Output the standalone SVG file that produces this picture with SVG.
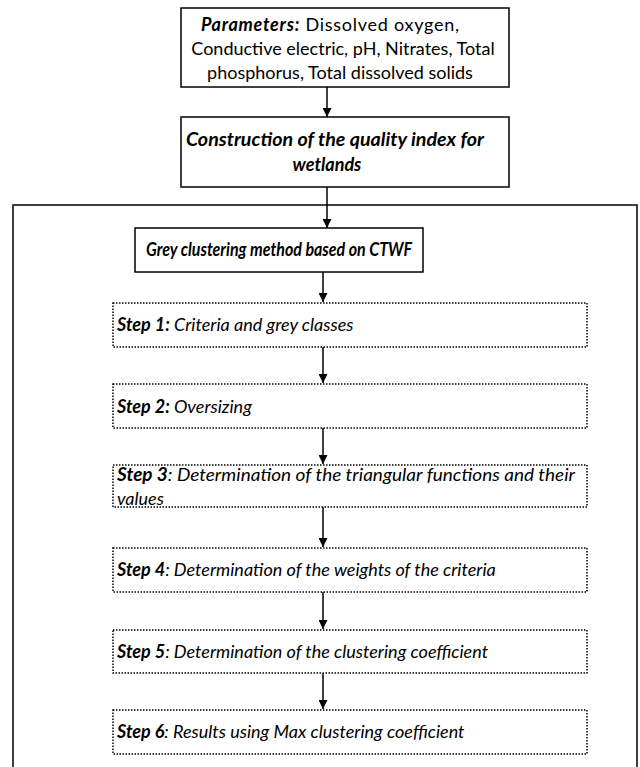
<svg xmlns="http://www.w3.org/2000/svg" width="640" height="767" viewBox="0 0 640 767">
<style>
text{font-family:Lato,"Liberation Sans",sans-serif;font-size:18px;fill:#000}
.c{text-anchor:middle}
.b{font-weight:bold}
.i{font-style:italic}
.solid{fill:#fff;stroke:#000;stroke-width:1.5}
.dot{fill:#fff;stroke:#000;stroke-width:1.5;stroke-dasharray:1.5 1.5}
.ln{stroke:#000;stroke-width:1.5;fill:none}
</style>
<defs>
<marker id="ah" viewBox="0 0 10 10" refX="10" refY="5" markerWidth="9" markerHeight="9" markerUnits="userSpaceOnUse" orient="auto">
<path d="M0,0 L10,5 L0,10 z" fill="#000"/>
</marker>
</defs>
<rect id="outer" x="13" y="205" width="624" height="580" fill="none" stroke="#000" stroke-width="1.5"/>
<g id="connectors">
<line class="ln" x1="327" y1="87" x2="327" y2="117" marker-end="url(#ah)"/>
<line class="ln" x1="327" y1="187" x2="327" y2="228" marker-end="url(#ah)"/>
<line class="ln" x1="323" y1="272" x2="323" y2="302" marker-end="url(#ah)"/>
<line class="ln" x1="323" y1="347" x2="323" y2="383" marker-end="url(#ah)"/>
<line class="ln" x1="323" y1="428" x2="323" y2="464" marker-end="url(#ah)"/>
<line class="ln" x1="323" y1="507" x2="323" y2="547" marker-end="url(#ah)"/>
<line class="ln" x1="323" y1="592" x2="323" y2="629" marker-end="url(#ah)"/>
<line class="ln" x1="323" y1="673" x2="323" y2="709" marker-end="url(#ah)"/>
</g>
<g id="params">
<rect class="solid" x="181" y="8" width="328" height="79"/>
<text class="c" x="330" y="31" textLength="258" lengthAdjust="spacing"><tspan class="b i">Parameters:</tspan> Dissolved oxygen,</text>
<text class="c" x="343" y="55">Conductive electric, pH, Nitrates, Total</text>
<text class="c" x="340" y="79">phosphorus, Total dissolved solids</text>
</g>
<g id="construction">
<rect class="solid" x="181" y="117" width="328" height="70"/>
<text class="c b i" x="335" y="146" textLength="298" lengthAdjust="spacingAndGlyphs">Construction of the quality index for</text>
<text class="c b i" x="327" y="171">wetlands</text>
</g>
<g id="grey">
<rect class="solid" x="135" y="228" width="288" height="44"/>
<text class="c b i" x="279" y="256" textLength="266" lengthAdjust="spacingAndGlyphs">Grey clustering method based on CTWF</text>
</g>
<g id="step1">
<rect class="dot" x="113" y="303" width="474" height="44"/>
<text class="i" x="117" y="331"><tspan class="b">Step 1:</tspan> Criteria and grey classes</text>
</g>
<g id="step2">
<rect class="dot" x="113" y="384" width="474" height="44"/>
<text class="i" x="117" y="413"><tspan class="b">Step 2:</tspan> Oversizing</text>
</g>
<g id="step3">
<rect class="dot" x="113" y="465" width="474" height="42"/>
<text class="i" x="117" y="481" textLength="458" lengthAdjust="spacingAndGlyphs"><tspan class="b">Step 3</tspan>: Determination of the triangular functions and their</text>
<text class="i" x="117" y="505">values</text>
</g>
<g id="step4">
<rect class="dot" x="113" y="548" width="474" height="44"/>
<text class="i" x="117" y="576"><tspan class="b">Step 4</tspan>: Determination of the weights of the criteria</text>
</g>
<g id="step5">
<rect class="dot" x="113" y="630" width="474" height="43"/>
<text class="i" x="117" y="658"><tspan class="b">Step 5</tspan>: Determination of the clustering coefficient</text>
</g>
<g id="step6">
<rect class="dot" x="113" y="710" width="474" height="44"/>
<text class="i" x="117" y="738"><tspan class="b">Step 6</tspan>: Results using Max clustering coefficient</text>
</g>
</svg>
